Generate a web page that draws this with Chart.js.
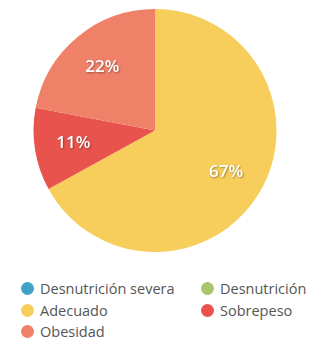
<!DOCTYPE html>
<html>
<head>
<meta charset="utf-8">
<script src="https://cdn.jsdelivr.net/npm/chart.js@4"></script>
<style>
  body { margin: 0; background: #fff; font-family: "Open Sans", Lato, sans-serif; }
  #wrap { position: relative; width: 314px; height: 339px; }
  canvas { display: block; }
  #leyenda { position: absolute; left: 21px; top: 278px; display: grid;
    grid-template-columns: 180px auto; font-size: 14.5px; color: #555; }
  .item { display: flex; align-items: center; height: 21.5px; white-space: nowrap; }
  .punto { width: 13px; height: 13px; border-radius: 50%; margin-right: 6px; flex: none; }
</style>
</head>
<body>
<div id="wrap">
  <canvas id="estadoChart" width="314" height="262"></canvas>
  <div id="leyenda"></div>
</div>
<script>
// Estado nutricional (porcentajes)
const categorias = ['Desnutrición severa', 'Desnutrición', 'Adecuado', 'Sobrepeso', 'Obesidad'];
const porcentajes = [0, 0, 67, 11, 22];
const colores = ['#3fa3c6', '#a8c46c', '#f7cd5c', '#e8544d', '#f08169'];

// etiquetas blancas dentro de cada porción
const etiquetasPlugin = {
    id: 'etiquetas',
    afterDatasetsDraw(chart) {
        const ctx = chart.ctx;
        const meta = chart.getDatasetMeta(0);
        ctx.save();
        ctx.font = '600 17px "Open Sans", sans-serif';
        ctx.fillStyle = '#fff';
        ctx.textAlign = 'center';
        ctx.textBaseline = 'middle';
        ctx.shadowColor = 'rgba(0,0,0,0.35)';
        ctx.shadowBlur = 2;
        ctx.shadowOffsetX = 1;
        ctx.shadowOffsetY = 1;
        meta.data.forEach((arc, i) => {
            const valor = porcentajes[i];
            if (!valor) return;
            const p = arc.getProps(['x', 'y', 'startAngle', 'endAngle', 'outerRadius']);
            const ang = (p.startAngle + p.endAngle) / 2;
            const d = p.outerRadius * 0.68;
            ctx.fillText(valor + '%', p.x + Math.cos(ang) * d, p.y + Math.sin(ang) * d);
        });
        ctx.restore();
    }
};

const ctx = document.getElementById('estadoChart');
new Chart(ctx.getContext('2d'), {
    type: 'pie',
    data: {
        labels: categorias,
        datasets: [{
            data: porcentajes,
            backgroundColor: colores,
            borderWidth: 0
        }]
    },
    options: {
        responsive: false,
        animation: false,
        layout: { padding: { top: 9, bottom: 10, left: 0, right: 4 } },
        plugins: {
            legend: { display: false },
            tooltip: { enabled: false }
        }
    },
    plugins: [etiquetasPlugin]
});

// leyenda en dos columnas
const leyenda = document.getElementById('leyenda');
categorias.forEach((nombre, i) => {
    const item = document.createElement('div');
    item.className = 'item';
    item.innerHTML = '<span class="punto" style="background:' + colores[i] + '"></span>' + nombre;
    leyenda.appendChild(item);
});
</script>
</body>
</html>
